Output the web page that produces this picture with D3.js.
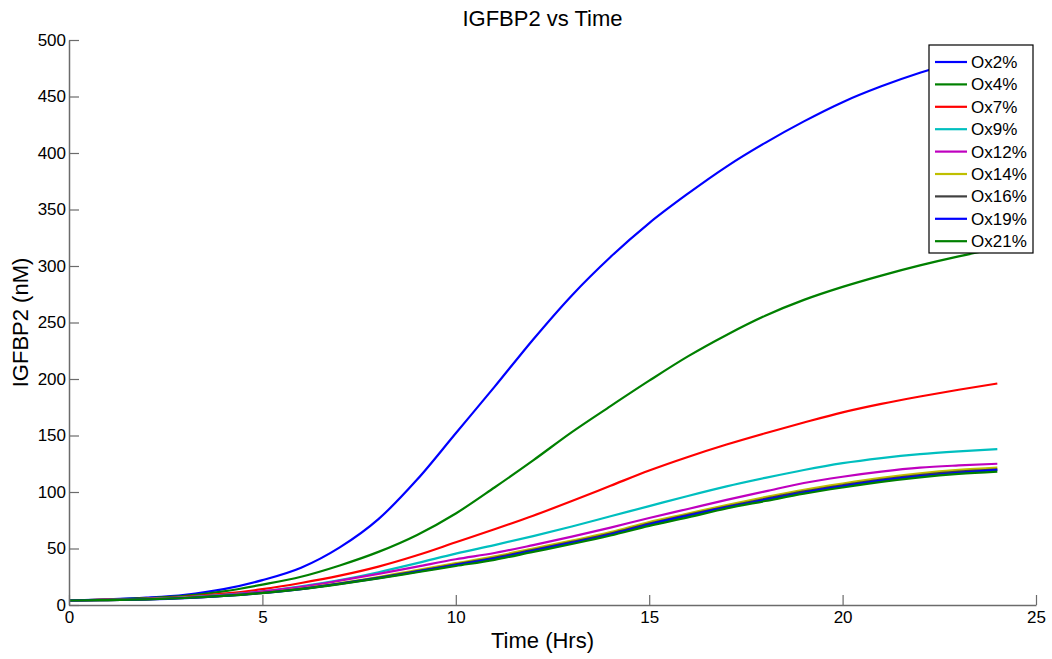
<!DOCTYPE html>
<html>
<head>
<meta charset="utf-8">
<script src="https://cdn.jsdelivr.net/npm/d3@7"></script>
<style>
  html, body { margin: 0; padding: 0; background: #fff; }
  svg { display: block; font-family: "Liberation Sans", Arial, Helvetica, sans-serif; }
</style>
</head>
<body>
<svg id="chart" width="1052" height="659"></svg>
<script>
// ---- data ----
const times = [0,1,2,3,4,5,6,7,8,9,10,11,12,13,14,15,16,17,18,19,20,21,22,23,24];
const seriesNames = ["Ox2%","Ox4%","Ox7%","Ox9%","Ox12%","Ox14%","Ox16%","Ox19%","Ox21%"];
const seriesColors = ["#0000ff","#008000","#ff0000","#00bfbf","#bf00bf","#bfbf00","#404040","#0000ff","#008000"];
const ox2  = [4,5,6.5,9,14,22,33,51,76,111,152,193,235,274,308,338,364,388,409,428,445,459,471,481,489];
const ox4  = [4,4.8,6,8,12,18,25,35,47,62,81,104,128,153,176,198.5,220,239,256,270,281.5,291.5,300.5,308.5,315.5];
const ox7  = [4,4.7,5.6,7.2,10,14,19.5,26,34,44,55.5,67,79,92,105.5,119,131,142,152,161.5,170.5,178,184.5,190.5,196];
const ox9  = [4,4.6,5.4,6.8,9,12,16.5,22,29,37,45.5,53,61,69.5,78.5,87.5,96.5,105,112.5,119.5,125.5,130,133.5,136,138];
const ox12 = [4,4.5,5.2,6.6,8.8,12,16,21.5,27.5,34,40.5,46,53,60.5,68.5,77,85,93,100.5,108,113.5,118,121.5,123.5,125];
const ox14 = [4,4.4,5.1,6.3,8.2,10.8,14.6,19.3,24.8,31,37,43,50,57,64.5,73.5,81,88.5,95.5,102,107.5,112.5,116.5,119.5,121.5];
const ox16 = [4,4.4,5,6.2,8.1,10.7,14.3,19,24.2,30,36,41.8,48.8,55.8,63.2,72,79.8,87.2,94,100.5,106,111,115,118,120];
const ox19 = [4,4.4,5,6.1,8,10.6,14.1,18.7,23.8,29.5,35.3,41,48,55,62.4,71.2,79,86.4,93,99.5,105,110,114,117,119.5];
const ox21 = [4,4.4,5,6.2,8,10.5,14,18.5,23.5,29,34.5,40,47,54,61.5,70,77.5,85.5,92,98.5,104,109,113,116,118];
const seriesValues = [ox2, ox4, ox7, ox9, ox12, ox14, ox16, ox19, ox21];
const xTicks = [0,5,10,15,20,25];
const yTicks = [0,50,100,150,200,250,300,350,400,450,500];
const titleText = "IGFBP2 vs Time";
const xLabel = "Time (Hrs)";
const yLabel = "IGFBP2 (nM)";

// ---- layout ----
const svg = d3.select("#chart");
const L = 69, R = 1036, T = 40, B = 605;
const x = d3.scaleLinear().domain([0, 25]).range([L, R]);
const y = d3.scaleLinear().domain([0, 500]).range([B, T]);
const axisColor = "#6b6b6b";

// lines
const line = d3.line()
  .x((d, i) => x(times[i]))
  .y(d => y(d))
  .curve(d3.curveMonotoneX);

svg.append("g").selectAll("path")
  .data(seriesValues)
  .join("path")
  .attr("d", d => line(d))
  .attr("fill", "none")
  .attr("stroke", (d, i) => seriesColors[i])
  .attr("stroke-width", 2.2)
  .attr("stroke-linejoin", "round");

// axes
const xAxis = d3.axisBottom(x).tickValues(xTicks).tickSizeInner(-10).tickSizeOuter(0).tickPadding(6);
const yAxis = d3.axisLeft(y).tickValues(yTicks).tickSizeInner(-10).tickSizeOuter(0).tickPadding(3);

const gx = svg.append("g").attr("transform", `translate(0,${B})`).call(xAxis);
const gy = svg.append("g").attr("transform", `translate(${L},0)`).call(yAxis);
[gx, gy].forEach(g => {
  g.select(".domain").attr("stroke", axisColor).attr("stroke-width", 1.5);
  g.selectAll(".tick line").attr("stroke", axisColor).attr("stroke-width", 1.2);
  g.selectAll(".tick text").attr("fill", "#000").style("font-size", "17px")
    .style("font-family", "'Liberation Sans', Arial, sans-serif");
});

// title & labels
svg.append("text").attr("x", (L + R) / 2 - 10).attr("y", 26)
  .attr("text-anchor", "middle").style("font-size", "22px").text(titleText);
svg.append("text").attr("x", (L + R) / 2 - 10).attr("y", 648)
  .attr("text-anchor", "middle").style("font-size", "22px").text(xLabel);
svg.append("text").attr("transform", `translate(28,${(T + B) / 2}) rotate(-90)`)
  .attr("text-anchor", "middle").style("font-size", "22px").text(yLabel);

// legend
const lgX = 929, lgY = 45, lgW = 104, lgH = 208, rowH = 22.4;
const lg = svg.append("g");
lg.append("rect").attr("x", lgX).attr("y", lgY).attr("width", lgW).attr("height", lgH)
  .attr("fill", "#fff").attr("stroke", "#000").attr("stroke-width", 1.2);
const rows = lg.selectAll("g.row").data(seriesNames).join("g")
  .attr("transform", (d, i) => `translate(0,${lgY + 17 + i * rowH})`);
rows.append("line").attr("x1", lgX + 6).attr("x2", lgX + 38).attr("y1", 0).attr("y2", 0)
  .attr("stroke", (d, i) => seriesColors[i]).attr("stroke-width", 2.2);
rows.append("text").attr("x", lgX + 42).attr("y", 0).attr("dy", "0.35em")
  .style("font-size", "17px").text(d => d);
</script>
</body>
</html>
